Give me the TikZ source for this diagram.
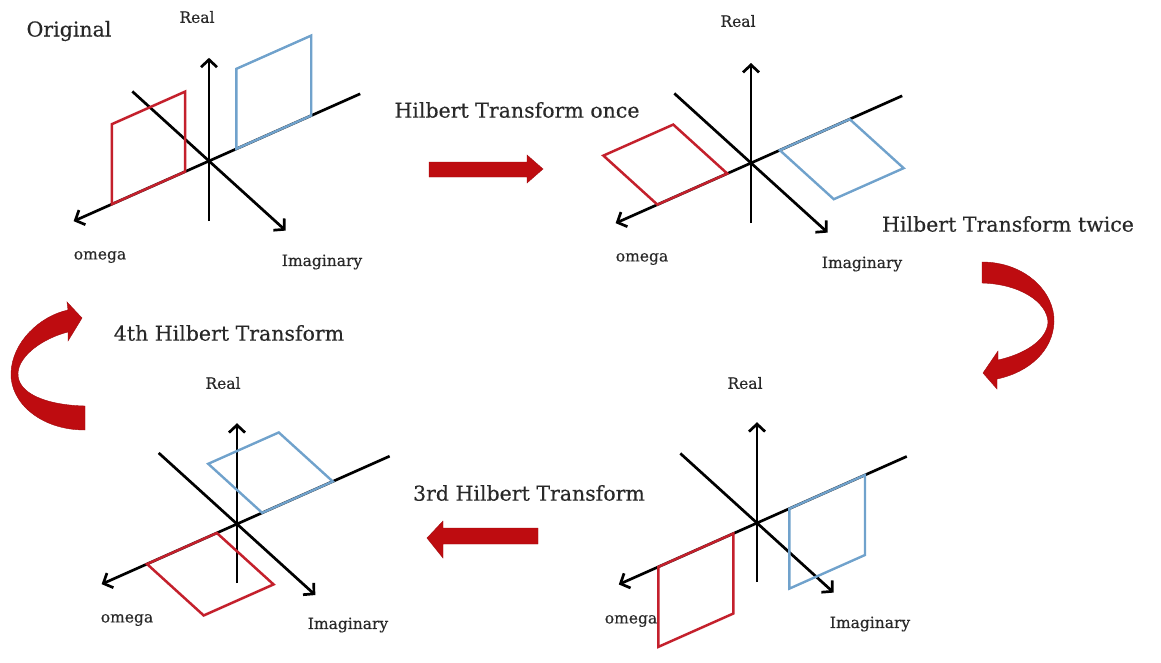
\documentclass[tikz,border=0pt]{standalone}
\usepackage{fontspec}
\setmainfont{DejaVu Serif}[UprightFeatures={FakeBold=0.35}]
\usetikzlibrary{arrows.meta}
\definecolor{hred}{RGB}{190,12,16}
\definecolor{sqred}{RGB}{196,32,44}
\definecolor{sqblue}{RGB}{112,162,204}
\definecolor{txt}{RGB}{40,40,40}
\begin{document}
\begin{tikzpicture}[x=1pt,y=-1pt,
  axis/.style={line width=2.7pt,black,-{Straight Barb[length=7.5pt,width=16pt]}},
  redsq/.style={draw=sqred,line width=2.5pt,line join=miter},
  bluesq/.style={draw=sqblue,line width=2.4pt,line join=miter},
  title/.style={text=txt,font=\fontsize{20.5}{24}\selectfont,inner sep=0pt},
  lab/.style={text=txt,font=\fontsize{15.5}{18}\selectfont,inner sep=0pt},
  bigarrow/.style={fill=hred,draw=hred!85!black,line width=0.4pt}]
\useasboundingbox (0,0) rectangle (1161,662);
\fill[white] (0,0) rectangle (1161,662);

% ---------- Diagram 1 (Original) ----------
\begin{scope}[shift={(209,161)},x={(-72pt,-32pt)},y={(54pt,-49pt)},z={(0pt,80pt)}]
  \coordinate (o1) at (0,0,0);
  \draw[axis] (-2.1,0,0) -- (1.88,0,0);
  \draw[axis] (0,-1.42,0) -- (0,1.42,0);
  \draw[axis] (0,0,-0.75) -- (0,0,1.29);
  \draw[redsq] (0.33,0,0) -- (1.35,0,0) -- (1.35,0,1) -- (0.33,0,1) -- cycle;
  \draw[bluesq] (-0.38,0,0) -- (-1.42,0,0) -- (-1.42,0,1) -- (-0.38,0,1) -- cycle;
\end{scope}
\node[title] (orig) at (69,31) {Original};
\node[lab] (r1) at (197,17) {Real};
\node[lab] (w1) at (100,257) {omega};
\node[lab] (i1) at (322,262) {Imaginary};

% ---------- Diagram 2 ----------
\begin{scope}[shift={(751,163)},x={(-72pt,-32pt)},y={(54pt,-49pt)},z={(0pt,80pt)}]
  \coordinate (o2) at (0,0,0);
  \draw[axis] (-2.1,0,0) -- (1.88,0,0);
  \draw[axis] (0,-1.42,0) -- (0,1.42,0);
  \draw[axis] (0,0,-0.75) -- (0,0,1.25);
  \draw[redsq] (0.33,0,0) -- (1.3,0,0) -- (1.3,-1,0) -- (0.33,-1,0) -- cycle;
  \draw[bluesq] (-0.4,0,0) -- (-1.37,0,0) -- (-1.37,1,0) -- (-0.4,1,0) -- cycle;
\end{scope}
\node[lab] (r2) at (738,21) {Real};
\node[lab] (w2) at (642,259) {omega};
\node[lab] (i2) at (862,264) {Imaginary};

% ---------- Diagram 3 (bottom right) ----------
\begin{scope}[shift={(757,523)},x={(-72pt,-32pt)},y={(54pt,-49pt)},z={(0pt,80pt)}]
  \coordinate (o3) at (0,0,0);
  \draw[axis] (-2.08,0,0) -- (1.92,0,0);
  \draw[axis] (0,-1.42,0) -- (0,1.42,0);
  \draw[axis] (0,0,-0.74) -- (0,0,1.26);
  \draw[redsq] (0.33,0,0) -- (1.37,0,0) -- (1.37,0,-1) -- (0.33,0,-1) -- cycle;
  \draw[bluesq] (-0.45,0,0) -- (-1.5,0,0) -- (-1.5,0,-1) -- (-0.45,0,-1) -- cycle;
\end{scope}
\node[lab] (r3) at (745,383) {Real};
\node[lab] (w3) at (631,621) {omega};
\node[lab] (i3) at (870,624) {Imaginary};

% ---------- Diagram 4 (bottom left) ----------
\begin{scope}[shift={(237,524)},x={(-72pt,-32pt)},y={(54pt,-49pt)},z={(0pt,80pt)}]
  \coordinate (o4) at (0,0,0);
  \draw[axis] (-2.12,0,0) -- (1.88,0,0);
  \draw[axis] (0,-1.45,0) -- (0,1.45,0);
  \draw[axis] (0,0,-0.74) -- (0,0,1.26);
  \draw[redsq] (0.28,0,0) -- (1.25,0,0) -- (1.25,1.05,0) -- (0.28,1.05,0) -- cycle;
  \draw[bluesq] (-0.35,0,0) -- (-1.33,0,0) -- (-1.33,-1,0) -- (-0.35,-1,0) -- cycle;
\end{scope}
\node[lab] (r4) at (223,383) {Real};
\node[lab] (w4) at (127,620) {omega};
\node[lab] (i4) at (348,625) {Imaginary};

% ---------- Titles ----------
\node[title] (t1) at (517,110) {Hilbert Transform once};
\node[title] (t2) at (1008,224) {Hilbert Transform twice};
\node[title] (t3) at (529,493) {3rd Hilbert Transform};
\node[title] (t4) at (229,333) {4th Hilbert Transform};

% ---------- Straight arrows ----------
\fill[bigarrow] (429,162) -- (527,162) -- (527,155) -- (543,169) -- (527,183) -- (527,177) -- (429,177) -- cycle;
\fill[bigarrow] (538,528) -- (443,528) -- (443,521) -- (427,538) -- (443,558) -- (443,544) -- (538,544) -- cycle;

% ---------- Curved arrows ----------
\fill[bigarrow] (982,262) .. controls (1025,262) and (1055,292) .. (1054,322)
  .. controls (1053,350) and (1030,372) .. (997,379)
  -- (997,389) -- (983,373) -- (998,351) -- (998,360)
  .. controls (1025,354) and (1047,340) .. (1048,322)
  .. controls (1047,302) and (1020,284) .. (982,283) -- cycle;
\fill[bigarrow] (85,430) .. controls (40,430) and (10,402) .. (11,373)
  .. controls (12,342) and (40,316) .. (68,310)
  -- (67,302) -- (82,318) -- (68,341) -- (68,332)
  .. controls (44,338) and (19,355) .. (18,373)
  .. controls (17,393) and (45,405) .. (85,406) -- cycle;
\end{tikzpicture}
\end{document}
